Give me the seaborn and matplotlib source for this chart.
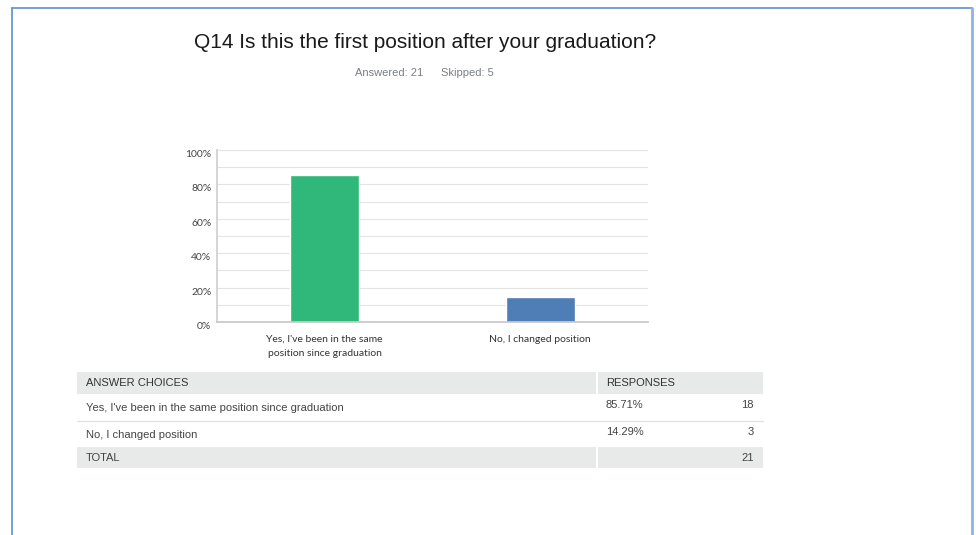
import matplotlib
matplotlib.use("Agg")
import matplotlib.pyplot as plt
from matplotlib.patches import Rectangle
from matplotlib.lines import Line2D
import seaborn as sns
import pandas as pd

# Survey data
question = "Q14 Is this the first position after your graduation?"
answered = 21
skipped = 5
choices = ["Yes, I've been in the same position since graduation",
           "No, I changed position"]
axis_labels = ["Yes, I've been in the same\nposition since graduation",
               "No, I changed position"]
counts = [18, 3]
percents = [85.71, 14.29]
bar_colors = ["#30b77a", "#4f7db5"]
yticks = [0, 20, 40, 60, 80, 100]

W, H = 976, 535
sns.set_theme(style="white")
plt.rcParams["font.family"] = ["Liberation Sans", "DejaVu Sans"]

fig = plt.figure(figsize=(W / 100, H / 100), dpi=100)
fig.patch.set_facecolor("white")


def fx(x):
    return x / W


def fy(y):
    return 1 - y / H


# Outer frame
fig.add_artist(Line2D([fx(12), fx(972)], [fy(8), fy(8)], color="#5b8fd0", lw=1.2))
fig.add_artist(Line2D([fx(12), fx(12)], [fy(8), 0], color="#5b8fd0", lw=1.2))
fig.add_artist(Line2D([fx(972), fx(972)], [fy(8), 0], color="#8fb4e3", lw=2.0))

# Header texts
title = fig.text(fx(425), fy(43), question, ha="center", va="center", fontsize=15, color="#1a1a1a")
title.set_stretch("condensed")
fig.text(fx(389), fy(73), f"Answered: {answered}", ha="center", va="center", fontsize=8, color="#7a7f85")
fig.text(fx(467), fy(73), f"Skipped: {skipped}", ha="center", va="center", fontsize=8, color="#7a7f85")

# Bar chart
ax = fig.add_axes([fx(217), fy(322), fx(648) - fx(217), (322 - 150) / H])
df = pd.DataFrame({"choice": axis_labels, "percent": percents})
sns.barplot(data=df, x="choice", y="percent", hue="choice", palette=bar_colors,
            legend=False, width=0.32, ax=ax, saturation=1)
ax.set_xlim(-0.5, 1.5)
ax.set_ylim(0, 100)
ax.set_yticks(yticks)
ax.set_yticklabels([f"{t}%" for t in yticks], fontsize=7.5, color="#444444",
                   family=["Lato", "DejaVu Sans"])
for lbl in ax.get_yticklabels():
    lbl.set_va("top")
ax.set_yticks(range(10, 100, 20), minor=True)
ax.yaxis.grid(True, which="both", color="#e4e4e4", lw=0.8)
ax.set_axisbelow(True)
ax.set_xlabel("")
ax.set_ylabel("")
ax.tick_params(axis="x", labelsize=7.5, colors="#333333", pad=9, length=0)
ax.tick_params(axis="y", pad=4, length=0)
for lbl in ax.get_xticklabels():
    lbl.set_family(["Lato", "DejaVu Sans"])
    lbl.set_linespacing(1.75)
for side in ["top", "right"]:
    ax.spines[side].set_visible(False)
ax.spines["left"].set_color("#d0d0d0")
ax.spines["bottom"].set_color("#c8c8c8")

# Summary table
gray = "#e8eaea"
tx0, tx1, tsep = 77, 763, 597


def rect(x0, y0, x1, y1, color):
    fig.add_artist(Rectangle((fx(x0), fy(y1)), fx(x1) - fx(x0), (y1 - y0) / H,
                             facecolor=color, edgecolor="none"))


rect(tx0, 372, tsep - 1, 394, gray)
rect(tsep + 1, 372, tx1, 394, gray)
rect(tx0, 447, tsep - 1, 468, gray)
rect(tsep + 1, 447, tx1, 468, gray)
fig.add_artist(Line2D([fx(tx0), fx(tx1)], [fy(421), fy(421)], color="#e2e4e4", lw=1))

fs = 8
fig.text(fx(86), fy(383), "ANSWER CHOICES", ha="left", va="center", fontsize=fs, color="#333333")
fig.text(fx(606), fy(383), "RESPONSES", ha="left", va="center", fontsize=fs, color="#333333")
row_y = [408, 435]
for i, (c, p, n) in enumerate(zip(choices, percents, counts)):
    fig.text(fx(86), fy(row_y[i]), c, ha="left", va="center", fontsize=fs, color="#444444")
    fig.text(fx(606), fy(row_y[i] - 3), f"{p:.2f}%", ha="left", va="center", fontsize=fs, color="#444444")
    fig.text(fx(754), fy(row_y[i] - 3), f"{n}", ha="right", va="center", fontsize=fs, color="#444444")
fig.text(fx(86), fy(458), "TOTAL", ha="left", va="center", fontsize=fs, color="#444444")
fig.text(fx(754), fy(458), f"{sum(counts)}", ha="right", va="center", fontsize=fs, color="#444444")

fig.savefig("out.png", dpi=100)
